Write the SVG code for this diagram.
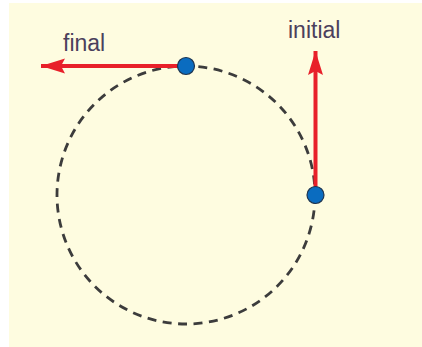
<svg xmlns="http://www.w3.org/2000/svg" width="422" height="347" viewBox="0 0 422 347">
<style>
.lbl{font-family:"Liberation Sans",Arial,sans-serif;font-size:23px;fill:#4b405c}
.vec{stroke:#e8202a;stroke-width:4;fill:none}
.dot{fill:#0a6cc0;stroke:#1f3550;stroke-width:1.2}
</style>
<defs>
<marker id="ah" markerUnits="userSpaceOnUse" markerWidth="26" markerHeight="18" refX="24" refY="9" orient="auto">
<path d="M24,9 L0,1.5 L4,9 L0,16.5 Z" fill="#e8202a"/>
</marker>
</defs>
<rect x="0" y="0" width="422" height="347" fill="#ffffff"/>
<rect x="9" y="3" width="413" height="344" fill="#fefce0"/>
<g id="path">
<circle cx="186" cy="195" r="129" fill="none" stroke="#3c3c3c" stroke-width="2.8" stroke-dasharray="9 6.5"/>
</g>
<g id="connectors">
<line class="vec" x1="186" y1="66" x2="41" y2="66" marker-end="url(#ah)"/>
<line class="vec" x1="315.5" y1="195" x2="315.5" y2="51" marker-end="url(#ah)"/>
</g>
<g id="final-point">
<circle class="dot" cx="186" cy="66" r="8.5"/>
</g>
<g id="initial-point">
<circle class="dot" cx="315.5" cy="195" r="8.5"/>
</g>
<g id="label-final"><text class="lbl" x="63" y="51">final</text></g>
<g id="label-initial"><text class="lbl" x="288" y="38">initial</text></g>
</svg>
